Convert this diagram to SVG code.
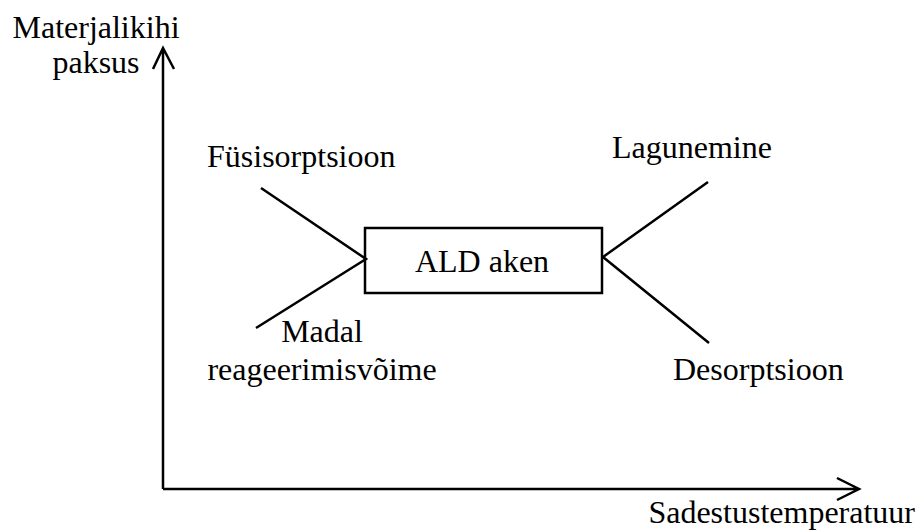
<svg xmlns="http://www.w3.org/2000/svg" width="922" height="532" viewBox="0 0 922 532">
<style>
.ln{stroke:#000;stroke-width:2.5;fill:none}
</style>
<rect width="922" height="532" fill="#fff"/>
<g font-family="'Liberation Serif', 'Times New Roman', 'DejaVu Serif', serif" font-size="32" fill="#000">
<g id="axes">
<path class="ln" d="M163,489 V48 M153,69 L163,48 L174,69"/>
<path class="ln" d="M163,489 H858 M837,478 L859,489 L837,500"/>
<text x="96" y="38" text-anchor="middle">Materjalikihi</text>
<text x="96" y="73" text-anchor="middle">paksus</text>
<text x="915" y="523" text-anchor="end">Sadestustemperatuur</text>
</g>
<g id="connectors">
<path class="ln" d="M261,188 L366,259 L256,328"/>
<path class="ln" d="M708,182 L603,257 L709,343"/>
</g>
<g id="ald">
<rect class="ln" x="365" y="228" width="237" height="65"/>
<text x="482" y="272" text-anchor="middle">ALD aken</text>
</g>
<g id="fys"><text x="207" y="167">Füsisorptsioon</text></g>
<g id="madal">
<text x="322" y="342" text-anchor="middle">Madal</text>
<text x="322" y="380" text-anchor="middle">reageerimisvõime</text>
</g>
<g id="lag"><text x="612" y="158">Lagunemine</text></g>
<g id="des"><text x="673" y="380">Desorptsioon</text></g>
</g>
</svg>
